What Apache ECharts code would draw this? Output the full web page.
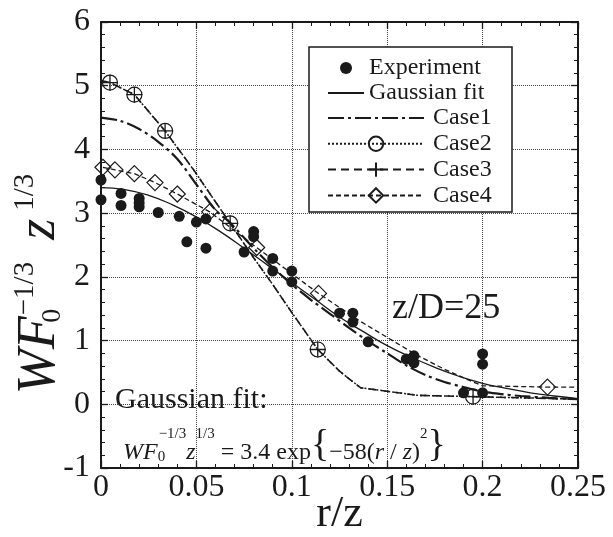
<!DOCTYPE html>
<html><head><meta charset="utf-8">
<script src="https://cdn.jsdelivr.net/npm/echarts@6/dist/echarts.min.js"></script>
<style>html,body{margin:0;padding:0;background:#fff}#c{width:613px;height:537px}</style>
</head><body><div id="c"></div>
<script>
// ---- data ----
const expR = [0, 0, 0.0105, 0.0105, 0.020, 0.020, 0.020, 0.030, 0.041, 0.045, 0.050, 0.055, 0.055, 0.075, 0.080, 0.080, 0.090, 0.090, 0.100, 0.100, 0.125, 0.132, 0.132, 0.140, 0.160, 0.164, 0.164, 0.190, 0.200, 0.200, 0.200];
const expV = [3.52, 3.21, 3.31, 3.12, 3.23, 3.16, 3.10, 3.01, 2.95, 2.55, 2.86, 2.91, 2.45, 2.39, 2.71, 2.63, 2.29, 2.09, 2.09, 1.92, 1.43, 1.43, 1.29, 0.98, 0.71, 0.76, 0.65, 0.18, 0.79, 0.63, 0.18];

const gaussR = [0, 0.0125, 0.025, 0.0375, 0.05, 0.0625, 0.075, 0.0875, 0.1, 0.1125, 0.125, 0.1375, 0.15, 0.1625, 0.175, 0.1875, 0.2, 0.2125, 0.225, 0.2375, 0.25];
const gaussV = [3.40, 3.37, 3.28, 3.13, 2.94, 2.71, 2.45, 2.18, 1.91, 1.64, 1.37, 1.14, 0.92, 0.74, 0.58, 0.44, 0.33, 0.25, 0.18, 0.13, 0.09];

const case1R = [0, 0.01, 0.02, 0.03, 0.04, 0.05, 0.06, 0.068, 0.08, 0.09, 0.10, 0.11, 0.12, 0.13, 0.14, 0.15, 0.16, 0.17, 0.18, 0.19, 0.20, 0.21, 0.22, 0.235, 0.25];
const case1V = [4.50, 4.45, 4.32, 4.12, 3.85, 3.45, 3.05, 2.84, 2.45, 2.15, 1.88, 1.64, 1.42, 1.20, 0.99, 0.80, 0.61, 0.46, 0.35, 0.27, 0.20, 0.16, 0.13, 0.10, 0.08];

const case2R = [0, 0.0047, 0.0175, 0.0336, 0.049, 0.0677, 0.08, 0.09, 0.10, 0.1136, 0.125, 0.136, 0.166, 0.195, 0.25];
const case2V = [5.08, 5.05, 4.86, 4.29, 3.66, 2.84, 2.30, 1.88, 1.44, 0.86, 0.52, 0.26, 0.14, 0.12, 0.08];
const case2Mark = [0, 1, 1, 1, 0, 1, 0, 0, 0, 1, 0, 0, 0, 1, 0];

const case3R = [0, 0.0047, 0.0175, 0.0336, 0.049, 0.0677, 0.08, 0.09, 0.10, 0.1136, 0.125, 0.136, 0.166, 0.195, 0.25];
const case3V = [5.08, 5.05, 4.86, 4.29, 3.66, 2.84, 2.30, 1.88, 1.44, 0.86, 0.52, 0.26, 0.14, 0.12, 0.08];
const case3Mark = [0, 1, 1, 1, 0, 1, 0, 0, 0, 1, 0, 0, 0, 1, 0];

const case4R = [0.001, 0.0073, 0.0175, 0.0283, 0.040, 0.057, 0.0816, 0.10, 0.114, 0.136, 0.15, 0.165, 0.18, 0.195, 0.20, 0.234, 0.25];
const case4V = [3.72, 3.68, 3.62, 3.48, 3.30, 3.02, 2.46, 2.05, 1.74, 1.30, 1.05, 0.78, 0.55, 0.35, 0.29, 0.27, 0.27];
const case4Mark = [1, 1, 1, 1, 1, 1, 1, 0, 1, 0, 0, 0, 0, 0, 0, 1, 0];

const xMin = 0, xMax = 0.25, xStep = 0.05;
const yMin = -1, yMax = 6, yStep = 1;

// ---- build ----
const zip = (a, b) => a.map((v, i) => [v, b[i]]);
const marked = (a, b, m) => a.map((v, i) => m[i] ? { value: [v, b[i]] } : { value: [v, b[i]], symbol: 'none' });

const INK = '#1a1a1a';
const SERIF = '"Liberation Serif", "Times New Roman", serif';
const PLUS = 'path://M5,0 L5,10 M0,5 L10,5';
const HIDE = { color: 'rgba(0,0,0,0)', borderColor: 'rgba(0,0,0,0)', borderWidth: 0, opacity: 0 };

const baseAxis = {
  type: 'value',
  nameMoveOverlap: false,
  axisLine: { show: true, onZero: false, lineStyle: { color: INK, width: 2 } },
  axisTick: { show: true, inside: true, length: 7, lineStyle: { color: INK, width: 1.3 } },
  minorTick: { show: true, splitNumber: 5, length: 4, lineStyle: { color: INK, width: 1 } },
};

const chart = echarts.init(document.getElementById('c'), null, { renderer: 'canvas' });
chart.setOption({
  animation: false,
  backgroundColor: '#fff',
  grid: { left: 101, right: 35, top: 22, bottom: 69, containLabel: false, outerBoundsMode: 'none' },
  xAxis: [
    Object.assign({}, baseAxis, {
      min: xMin, max: xMax, interval: xStep, position: 'bottom',
      axisLabel: { margin: 4, fontFamily: SERIF, fontSize: 32, color: INK, alignMinLabel: 'center', alignMaxLabel: 'center',
        formatter: v => String(+v.toFixed(2)) },
      splitLine: { show: true, lineStyle: { type: 'dotted', color: '#444', width: 1 } },
      name: 'r/z', nameLocation: 'middle', nameGap: 24,
      nameTextStyle: { fontFamily: SERIF, fontSize: 44, color: INK }
    }),
    Object.assign({}, baseAxis, {
      min: xMin, max: xMax, interval: xStep, position: 'top',
      axisLabel: { show: false }, splitLine: { show: false }
    })
  ],
  yAxis: [
    Object.assign({}, baseAxis, {
      min: yMin, max: yMax, interval: yStep, position: 'left',
      axisLabel: { margin: 11, fontFamily: SERIF, fontSize: 32, color: INK },
      splitLine: { show: true, lineStyle: { type: 'dotted', color: '#444', width: 1 } },
      name: '{w|WF}{s|0}{p|−1/3}{g| }{w|z}{h| }{q|1/3}{sp| }', nameLocation: 'middle', nameGap: 34,
      nameTextStyle: {
        color: INK,
        rich: {
          w: { fontFamily: SERIF, fontStyle: 'italic', fontSize: 54, lineHeight: 56, verticalAlign: 'bottom', color: INK },
          s: { fontFamily: SERIF, fontSize: 28, lineHeight: 28, verticalAlign: 'bottom', width: 1, color: INK },
          p: { fontFamily: SERIF, fontSize: 29, lineHeight: 30, verticalAlign: 'top', color: INK },
          g: { fontSize: 10, lineHeight: 10, width: 22, verticalAlign: 'bottom' },
          h: { fontSize: 10, lineHeight: 10, width: 8, verticalAlign: 'bottom' },
          q: { fontFamily: SERIF, fontSize: 29, lineHeight: 30, verticalAlign: 'top', color: INK },
          sp: { fontSize: 10, width: 78, lineHeight: 10 }
        }
      }
    }),
    Object.assign({}, baseAxis, {
      min: yMin, max: yMax, interval: yStep, position: 'right',
      axisLabel: { show: false }, splitLine: { show: false }
    })
  ],
  legend: [
    {
      orient: 'vertical', left: 322, top: 51, z: 6,
      itemWidth: 36, itemHeight: 12, itemGap: 1,
      data: ['Experiment', { name: 'Gaussian fit', itemStyle: HIDE }],
      textStyle: { fontFamily: SERIF, fontSize: 24, lineHeight: 24, color: INK }
    },
    {
      orient: 'vertical', left: 322, top: 101, z: 6,
      itemWidth: 96, itemHeight: 18, itemGap: 1.8,
      data: [{ name: 'Case1', itemStyle: HIDE }, 'Case2', 'Case3', 'Case4'],
      textStyle: { fontFamily: SERIF, fontSize: 24, lineHeight: 24, color: INK, padding: [0, 0, 0, 4] }
    }
  ],
  graphic: [
    { type: 'rect', z: 5, shape: { x: 309, y: 47, width: 203, height: 165 },
      style: { fill: '#fff', stroke: INK, lineWidth: 1.5 } },
    { type: 'text', z: 5, style: { x: 392, y: 309, text: 'z/D=25', fontFamily: SERIF, fontSize: 36, fill: INK, verticalAlign: 'middle' } },
    { type: 'text', z: 5, style: { x: 115, y: 400, text: 'Gaussian fit:', fontFamily: SERIF, fontSize: 30, fill: INK, verticalAlign: 'middle' } },
    { type: 'text', z: 5, style: {
        x: 123, y: 446, verticalAlign: 'middle', fill: INK, fontFamily: SERIF, fontSize: 38,
        text: '{i|WF}{s|0}{p|−1/3}{i|z}{p|1/3}{n| = 3.4 exp}{b|{}{n|−58(}{i|r}{n| / }{i|z}{n|)}{p|2}}',
        rich: {
          i: { fontFamily: SERIF, fontStyle: 'italic', fontSize: 24, lineHeight: 28, verticalAlign: 'bottom', fill: INK },
          n: { fontFamily: SERIF, fontSize: 24, lineHeight: 28, verticalAlign: 'bottom', fill: INK },
          s: { fontFamily: SERIF, fontSize: 15, lineHeight: 16, verticalAlign: 'bottom', width: 1, fill: INK },
          p: { fontFamily: SERIF, fontSize: 15, lineHeight: 28, verticalAlign: 'top', fill: INK },
          b: { fontFamily: SERIF, fontSize: 38, lineHeight: 34, verticalAlign: 'bottom', fill: INK }
        }
      } }
  ],
  series: [
    { name: 'Experiment', type: 'scatter', data: zip(expR, expV), symbol: 'circle', symbolSize: 11,
      itemStyle: { color: INK, opacity: 1 }, z: 4 },
    { name: 'Gaussian fit', type: 'line', data: zip(gaussR, gaussV), smooth: true, symbol: 'none',
      itemStyle: { color: INK }, lineStyle: { color: INK, width: 1.3, type: 'solid' } },
    { name: 'Case1', type: 'line', data: zip(case1R, case1V), smooth: 0.3, symbol: 'none',
      itemStyle: { color: INK }, lineStyle: { color: INK, width: 2.2, type: [16, 4, 3, 4] } },
    { name: 'Case2', type: 'line', data: marked(case2R, case2V, case2Mark), symbol: 'circle', symbolSize: 15,
      showSymbol: true, itemStyle: { color: 'rgba(0,0,0,0)', borderColor: INK, borderWidth: 1.2 },
      lineStyle: { color: INK, width: 1.5, type: [2, 2] } },
    { name: 'Case3', type: 'line', data: marked(case3R, case3V, case3Mark), symbol: PLUS, symbolSize: 16,
      showSymbol: true, itemStyle: { color: 'rgba(0,0,0,0)', borderColor: INK, borderWidth: 1.3 },
      lineStyle: { color: INK, width: 1.6, type: [8, 5] } },
    { name: 'Case4', type: 'line', data: marked(case4R, case4V, case4Mark), symbol: 'diamond', symbolSize: 16,
      showSymbol: true, itemStyle: { color: 'rgba(0,0,0,0)', borderColor: INK, borderWidth: 1.2 },
      lineStyle: { color: INK, width: 1.3, type: [5, 3] } }
  ]
});
</script></body></html>
